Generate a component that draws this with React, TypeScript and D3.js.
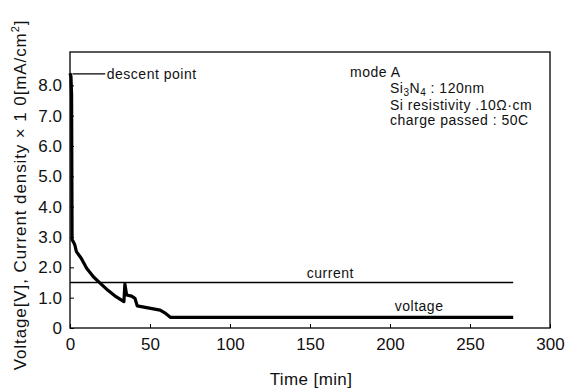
import { useEffect, useRef } from "react";
import * as d3 from "d3";

// voltage trace (time in min, value in V)
const timeV = [0, 0.6, 1.0, 1.3, 2, 3, 4, 7, 10.4, 14.6, 18.8, 22.9, 28, 33.7, 34.3, 35.4, 38.5, 40.6, 42, 47.9, 56.3, 59.8, 62.9, 277];
const voltage = [8.4, 8.3, 7.7, 2.9, 2.85, 2.74, 2.52, 2.3, 1.97, 1.69, 1.48, 1.28, 1.06, 0.87, 1.45, 1.09, 1.05, 0.98, 0.73, 0.67, 0.59, 0.48, 0.35, 0.35];

// current density x10 (mA/cm2), constant
const timeC = [0, 277];
const current = [1.5, 1.5];

const xTicks = [0, 50, 100, 150, 200, 250, 300];
const yTicks = [0, 1, 2, 3, 4, 5, 6, 7, 8];
const notes = ["Si resistivity .10\u03a9\u00b7cm", "charge passed : 50C"];

export default function App() {
  const svgRef = useRef<SVGSVGElement | null>(null);

  useEffect(() => {
    const svg = d3.select(svgRef.current);
    svg.selectAll("*").remove();
    const font = "'Liberation Sans', Arial, sans-serif";

    const x = d3.scaleLinear().domain([0, 300]).range([70, 550]);
    const y = d3.scaleLinear().domain([0, 9.1]).range([328, 52]);

    // frame
    svg.append("rect")
      .attr("x", 70).attr("y", 52).attr("width", 480).attr("height", 276)
      .attr("fill", "none").attr("stroke", "#000").attr("stroke-width", 1.3);

    const xa = svg.append("g").attr("transform", "translate(0,328)")
      .call(d3.axisBottom(x).tickValues(xTicks).tickSizeInner(-4).tickSizeOuter(0).tickPadding(10).tickFormat(d3.format("d")));
    const ya = svg.append("g").attr("transform", "translate(70,0)")
      .call(d3.axisLeft(y).tickValues(yTicks).tickSizeInner(-4).tickSizeOuter(0).tickPadding(8)
        .tickFormat((v) => (v === 0 ? "0" : d3.format(".1f")(v as number))));
    [xa, ya].forEach((a) => {
      a.select(".domain").remove();
      a.selectAll("text").attr("font-family", font).attr("font-size", 17).attr("fill", "#111");
      a.selectAll("line").attr("stroke", "#000");
    });

    const line = d3.line<[number, number]>().x((d) => x(d[0])).y((d) => y(d[1]));

    svg.append("path")
      .attr("d", line(timeC.map((t, i) => [t, current[i]] as [number, number])))
      .attr("fill", "none").attr("stroke", "#000").attr("stroke-width", 1.4);

    svg.append("path")
      .attr("d", line(timeV.map((t, i) => [t, voltage[i]] as [number, number])))
      .attr("fill", "none").attr("stroke", "#000").attr("stroke-width", 3.2).attr("stroke-linejoin", "round");

    // descent point marker
    svg.append("line")
      .attr("x1", x(1.5)).attr("x2", x(22)).attr("y1", y(8.38)).attr("y2", y(8.38))
      .attr("stroke", "#000").attr("stroke-width", 1.2);
    const lab = (t: string, px: number, py: number) =>
      svg.append("text").attr("x", px).attr("y", py).attr("font-family", font)
        .attr("font-size", 14).attr("letter-spacing", 0.5).attr("fill", "#111").text(t);
    lab("descent point", x(23), y(8.38) + 5);
    lab("current", x(148), y(1.5) - 5);
    lab("voltage", x(203), y(0.35) - 6);

    lab("mode A", 350, 77);
    const si = svg.append("text").attr("x", 390).attr("y", 93).attr("font-family", font)
      .attr("font-size", 14).attr("letter-spacing", 0.5).attr("fill", "#111");
    si.append("tspan").text("Si");
    si.append("tspan").attr("font-size", 10).attr("dy", 3).text("3");
    si.append("tspan").attr("dy", -3).text("N");
    si.append("tspan").attr("font-size", 10).attr("dy", 3).text("4");
    si.append("tspan").attr("dy", -3).text(" : 120nm");
    lab(notes[0], 390, 110);
    lab(notes[1], 390, 125);

    svg.append("text").attr("x", 311).attr("y", 385).attr("text-anchor", "middle")
      .attr("font-family", font).attr("font-size", 17).attr("letter-spacing", 0.4)
      .attr("fill", "#111").text("Time [min]");

    const yt = svg.append("text").attr("transform", "translate(26,195) rotate(-90)")
      .attr("text-anchor", "middle").attr("font-family", font).attr("font-size", 17)
      .attr("letter-spacing", 0.9).attr("fill", "#111");
    yt.append("tspan").text("Voltage[V], Current density \u00d7 1 0[mA/cm");
    yt.append("tspan").attr("font-size", 11).attr("dy", -7).text("2");
    yt.append("tspan").attr("dy", 7).text("]");
  }, []);

  return (
    <svg ref={svgRef} width={569} height={388}
      style={{ position: "absolute", left: 0, top: 0, background: "#fff" }} />
  );
}
